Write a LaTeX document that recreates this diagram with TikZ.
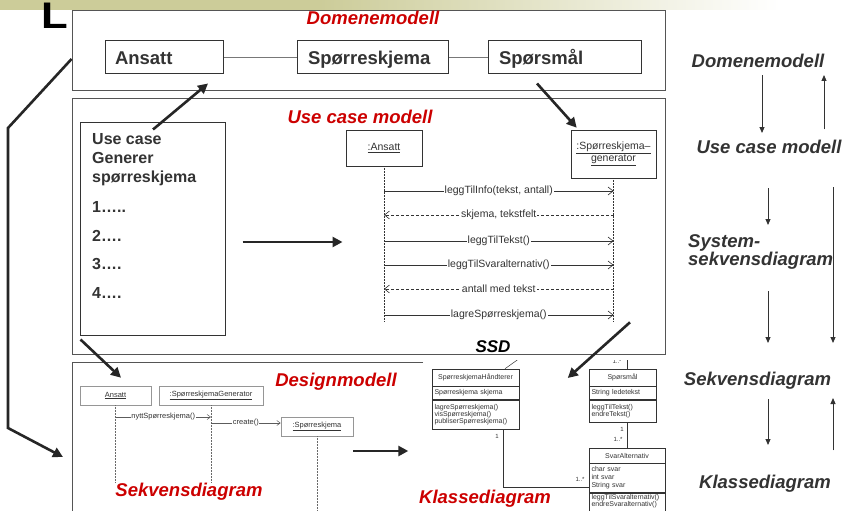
\documentclass[tikz,border=0pt]{standalone}
\usepackage{fontspec}
\setmainfont{Liberation Sans}
\usetikzlibrary{arrows.meta,calc}
\definecolor{barkhaki}{RGB}{204,204,153}
\definecolor{titlered}{RGB}{204,0,0}
\definecolor{ink}{RGB}{51,51,51}
\definecolor{framegray}{RGB}{85,85,85}
\definecolor{lightline}{RGB}{150,150,150}
\newcommand{\fsz}[1]{\fontsize{#1}{#1}\selectfont}

\begin{document}
\begin{tikzpicture}[x=1pt,y=-1pt,
  frame/.style={draw=framegray,line width=0.9pt,inner sep=0pt},
  redtitle/.style={font=\fsz{18.5}\bfseries\itshape,text=titlered,inner sep=0pt,anchor=base},
  sidelabel/.style={font=\fsz{18.5}\bfseries\itshape,text=ink,inner sep=0pt,anchor=base},
  entity/.style={draw=ink,line width=1pt,minimum height=33pt,inner ysep=0pt,
    text height=13.5pt,text depth=0pt,font=\fsz{18.5}\bfseries,text=ink,align=left},
  assoc/.style={draw=lightline!80!black,line width=0.9pt},
  bigarrow/.style={draw=black!85,line width=2.6pt,-{Triangle[length=10pt,width=10pt]}},
  sidearrow/.style={draw=ink,line width=0.9pt,-{Triangle[length=6pt,width=5pt]}},
  lifehead/.style={draw=ink,line width=0.6pt,font=\fsz{10.5},text=ink,align=center,inner sep=0pt},
  lifeline/.style={draw=ink,line width=0.5pt,densely dotted},
  call/.style={draw=ink,line width=0.6pt,-{Straight Barb[length=5pt,width=8pt]}},
  reply/.style={call,densely dashed},
  msg/.style={fill=white,font=\fsz{10.5},text=ink,inner sep=1pt},
  dhead/.style={draw=lightline,line width=0.6pt,font=\fsz{7.5},text=ink,inner sep=0pt,minimum height=19pt},
  dlife/.style={draw=lightline!70!black,line width=0.5pt,densely dotted},
  dcall/.style={draw=ink!80,line width=0.5pt,-{Straight Barb[length=3.5pt,width=5pt]}},
  dmsg/.style={fill=white,font=\fsz{7.5},text=ink,inner sep=0.5pt},
  cls/.style={draw=ink,line width=0.5pt,font=\fsz{7},text=ink,inner xsep=2.5pt,inner ysep=0pt,align=left},
  mult/.style={font=\fsz{6},text=ink,inner sep=0pt},
  classline/.style={draw=ink,line width=0.5pt},
]
\useasboundingbox (0,0) rectangle (852,511);
\fill[white] (0,0) rectangle (852,511);

% header band
\fill[barkhaki] (0,0) rectangle (320,10);
\shade[left color=barkhaki,right color=white] (319.5,0) rectangle (780,10);
\node[font=\fsz{37}\bfseries,text=black,anchor=base west,inner sep=0pt,xscale=1.18] (bigL) at (41,28.5) {L};

% ---------- domain model ----------
\node[frame,minimum width=593pt,minimum height=80pt] (dmframe) at (368.5,50) {};
\node[redtitle] (dmtitle) at (373,25) {Domenemodell};
\node[entity,text width=98pt,inner xsep=10pt] (ansatt) at (164,57.5) {Ansatt};
\node[entity,text width=129pt,inner xsep=11pt] (skjema) at (372.5,57.5) {Spørreskjema};
\node[entity,text width=131pt,inner xsep=11pt] (spm) at (564.5,57.5) {Spørsmål};
\draw[assoc] (ansatt) -- (skjema);
\draw[assoc] (skjema) -- (spm);

% ---------- use case model ----------
\node[frame,minimum width=593pt,minimum height=256pt] (ucframe) at (368.5,226) {};
\node[redtitle] (uctitle) at (360,123) {Use case modell};
\node[draw=ink,line width=1pt,minimum width=145pt,minimum height=213pt,inner sep=0pt] (uc) at (152.5,228.5) {};
\node[anchor=north west,font=\fontsize{16}{19}\selectfont\bfseries,text=ink,align=left,inner sep=0pt]
  (uctext) at (92,133) {Use case\\Generer\\spørreskjema\\[11pt]1…..\\[10pt]2….\\[9pt]3….\\[10pt]4….};

% system sequence diagram
\node[lifehead,minimum width=76pt,minimum height=36pt] (sa) at (384,148) {\underline{:Ansatt}};
\node[lifehead,minimum width=85pt,minimum height=48pt] (sg) at (613.5,154) {\underline{:Spørreskjema–}\\\underline{generator}};
\draw[lifeline] (sa.south) -- (sa.south |- 0,322);
\draw[lifeline] (sg.south) -- (sg.south |- 0,322);
\draw[call]  (sa.south |- 0,191) -- (sg.south |- 0,191) node[msg,midway] {leggTilInfo(tekst, antall)};
\draw[reply] (sg.south |- 0,215) -- (sa.south |- 0,215) node[msg,midway] {skjema, tekstfelt};
\draw[call]  (sa.south |- 0,241) -- (sg.south |- 0,241) node[msg,midway] {leggTilTekst()};
\draw[call]  (sa.south |- 0,265) -- (sg.south |- 0,265) node[msg,midway] {leggTilSvaralternativ()};
\draw[reply] (sg.south |- 0,289) -- (sa.south |- 0,289) node[msg,midway] {antall med tekst};
\draw[call]  (sa.south |- 0,315) -- (sg.south |- 0,315) node[msg,midway] {lagreSpørreskjema()};
\node[font=\fsz{17}\bfseries\itshape,text=black,inner sep=0pt,anchor=base] (ssd) at (493,352) {SSD};

% ---------- design model ----------
\draw[framegray,line width=0.9pt] (423,362) -- (72,362) -- (72,520);
\node[redtitle] (dsgtitle) at (336,386) {Designmodell};
\node[redtitle] (sdtitle) at (189,496) {Sekvensdiagram};
\node[redtitle] (kdtitle) at (485,503) {Klassediagram};

% design sequence diagram
\node[dhead,minimum width=71pt] (dA) at (115.5,395.5) {\underline{Ansatt}};
\node[dhead,minimum width=104pt] (dG) at (211,395.5) {\underline{:SpørreskjemaGenerator}};
\node[dhead,minimum width=72pt] (dS) at (317,426.5) {\underline{:Spørreskjema}};
\draw[dlife] (dA.south) -- (dA.south |- 0,483);
\draw[dlife] (dG.south) -- (dG.south |- 0,483);
\draw[dlife] (dS.south) -- (dS.south |- 0,515);
\draw[dcall] (dA.south |- 0,417) -- (dG.south |- 0,417) node[dmsg,midway] {nyttSpørreskjema()};
\draw[dcall] (dG.south |- 0,423) -- (dS.west |- 0,423) node[dmsg,midway] {create()};

% class diagram
\begin{scope}
\clip (423,360) rectangle (700,520);
\node[cls,minimum width=87pt,minimum height=17pt,align=center] (shN) at (475.5,377.5) {SpørreskjemaHåndterer};
\node[cls,text width=82pt,minimum height=13pt,anchor=north] (shA) at (shN.south) {Spørreskjema skjema};
\node[cls,text width=82pt,minimum height=29pt,anchor=north] (shM) at (shA.south) {lagreSpørreskjema()\\visSpørreskjema()\\publiserSpørreskjema()};
\node[cls,minimum width=67pt,minimum height=17pt,align=center] (spN) at (622.5,377.5) {Spørsmål};
\node[cls,text width=62pt,minimum height=13pt,anchor=north] (spA) at (spN.south) {String ledetekst};
\node[cls,text width=62pt,minimum height=22pt,anchor=north] (spM) at (spA.south) {leggTilTekst()\\endreTekst()};
\node[cls,minimum width=76pt,minimum height=15pt,align=center] (svN) at (627,455.5) {SvarAlternativ};
\node[cls,text width=71pt,minimum height=29pt,anchor=north,font=\fontsize{7}{8}\selectfont] (svA) at (svN.south) {char svar\\int svar\\String svar};
\node[cls,text width=71pt,minimum height=22pt,anchor=north] (svM) at (svA.south) {leggTilSvaralternativ()\\endreSvaralternativ()\\\mbox{}};
\draw[classline] (spM.south -| 627,0) -- (svN.north -| 627,0);
\node[mult] (m1) at (622,429) {1};
\node[mult] (m2) at (618,439) {1..*};
\draw[classline] (shM.south -| 503,0) |- (svA.west |- 0,487);
\node[mult] (m3) at (497,436) {1};
\node[mult] (m4) at (580,479) {1..*};
\draw[classline] (spN.north -| 627,0) -- ++(0,-12);
\node[mult] (m5) at (617,361) {1..*};
\draw[classline] (shN.north -| 505,0) -- ++(14,-10);
\end{scope}

% ---------- flow between the models ----------
\draw[bigarrow] ($(uc.north)+(0.5,8)$) -- ($(ansatt.south)+(44,9)$);
\draw[bigarrow] ($(spm.south)+(-27.5,9)$) -- ($(sg.north west)+(6,-2)$);
\draw[bigarrow] ($(uc.east)+(17,13.5)$) -- ($(uc.east)+(117,13.5)$);
\draw[bigarrow] ($(sg.south)+(16.5,144)$) -- ($(spN.west)+(-21,0.5)$);
\draw[bigarrow] ($(uc.south west)+(1,4)$) -- ($(dA.north)+(5.5,-8)$);
\draw[bigarrow] ($(dS.east)+(0,24.5)$) -- ($(dS.east)+(55,24.5)$);
\draw[bigarrow,line join=miter] (dmframe.west |- 0,59) -- (8,128) -- (8,428) -- (63,457);

% ---------- process overview ----------
\node[sidelabel] (rDM) at (758,67) {Domenemodell};
\node[sidelabel] (rUC) at (769,153) {Use case modell};
\node[sidelabel,anchor=base west] (rSSD1) at (688,247) {System-};
\node[sidelabel,anchor=base west] (rSSD2) at (688,265) {sekvensdiagram};
\node[sidelabel] (rSD) at (757.5,385) {Sekvensdiagram};
\node[sidelabel] (rKD) at (765,488) {Klassediagram};
\draw[sidearrow] (rDM.south -| 762,0) ++(0,8) -- (762,133);
\draw[sidearrow] (rUC.north -| 824,0) ++(0,-10) -- (824,75);
\draw[sidearrow] (rUC.south -| 768,0) ++(0,35) -- (768,225);
\draw[sidearrow] (rUC.south -| 833,0) ++(0,34) -- (833,343);
\draw[sidearrow] (rSSD2.south -| 768,0) ++(0,22) -- (768,343);
\draw[sidearrow] (rSD.south -| 768,0) ++(0,10) -- (768,445);
\draw[sidearrow] (rKD.north -| 833,0) ++(0,-24) -- (833,398);
\end{tikzpicture}
\end{document}
